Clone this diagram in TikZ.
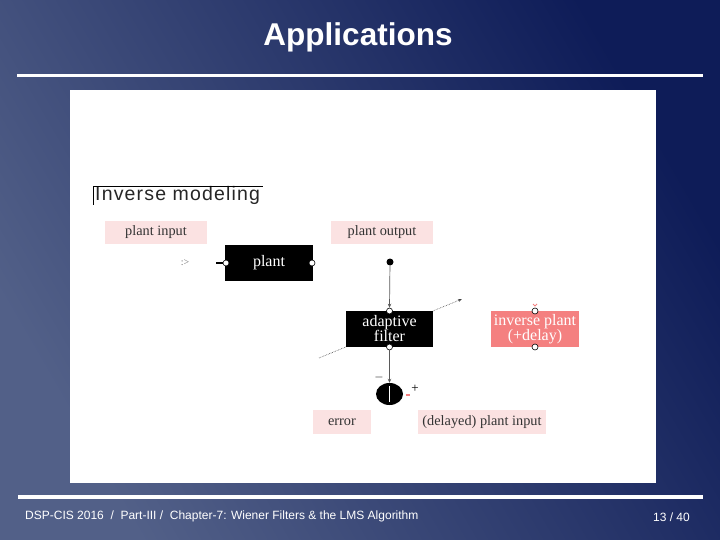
\documentclass[tikz,border=0pt]{standalone}
\usepackage{fontspec}
\setmainfont{Liberation Serif}
\newfontfamily\arialf{Liberation Sans}
\newfontfamily\spacedsans[LetterSpace=6]{Liberation Sans}
\usetikzlibrary{shapes.geometric,arrows.meta}
\definecolor{bgdark}{RGB}{14,28,88}
\definecolor{bglight}{RGB}{82,96,136}
\definecolor{pinkbox}{RGB}{251,226,226}
\definecolor{salmon}{RGB}{244,128,128}
\definecolor{wirecol}{RGB}{90,90,90}
\tikzset{
  labelbox/.style={fill=pinkbox, minimum width=#1, minimum height=23pt, inner sep=0pt, font=\fontsize{14.3}{15}\selectfont, text=black!80},
  blockbox/.style={fill=black, text=white, minimum width=88pt, minimum height=36pt, inner sep=0pt, align=center, font=\fontsize{16}{15}\selectfont},
  invbox/.style={fill=salmon, text=white, minimum width=88pt, minimum height=36pt, inner sep=0pt, align=center, font=\fontsize{16}{15}\selectfont},
  port/.style={circle, fill=white, draw=black, line width=0.6pt, minimum size=6pt, inner sep=0pt},
  wire/.style={draw=wirecol, line width=0.7pt},
  whiteline/.style={white, line width=3.5pt},
}
\begin{document}
\begin{tikzpicture}[x=1pt,y=-1pt]
\useasboundingbox (0,0) rectangle (720,540);
\shade[left color=bglight, right color=bgdark, shading angle=120] (0,0) rectangle (720,540);
\node[text=white, font=\arialf\bfseries\fontsize{31.5}{33}\selectfont] (title) at (358,37) {Applications};
\draw[whiteline] (17,75.5) -- (703,75.5);
\draw[whiteline] (18,497) -- (703,497);
\fill[white] (70,90) rectangle (656,483);
% heading
\node[anchor=west, inner sep=0pt, font=\spacedsans\fontsize{19.5}{20}\selectfont, text=black!85] (heading) at (95,195) {Inverse modeling};
\draw[black, line width=0.6pt] (93,205) -- (93,186.5) -- (263,186.5);
% label boxes
\node[labelbox=102pt] (pin) at (156,232.5) {plant input};
\node[labelbox=102pt] (pout) at (382,232.5) {plant output};
\node[labelbox=58pt, minimum height=24pt] (err) at (342,422) {error};
\node[labelbox=128pt, minimum height=24pt] (dpin) at (482,422) {(delayed) plant input};
% dotted diagonal (behind the filter)
\coordinate (dstart) at (319,358);
\coordinate (dend) at (462,299);
\draw[densely dotted, line width=0.6pt, black!75, -{Stealth[length=4pt,width=3pt]}] (dstart) -- (dend);
% blocks
\node[blockbox] (plant) at (269,263) {plant};
\node[blockbox, minimum width=87pt] (af) at (389.5,329) {adaptive\\filter};
\node[invbox] (inv) at (535,329) {inverse plant\\(+delay)};
% ports
\node[port] (pl) at (226,263) {};
\node[port] (pr) at (312,263) {};
\node[port] (aft) at (389.5,311) {};
\node[port] (afb) at (389.5,347) {};
\node[port] (invt) at (535,311) {};
\node[port] (invb) at (535,347) {};
\draw[salmon, line width=0.8pt] (533,304) -- (535,306) -- (537,304);
% input symbol
\node[text=black!55, font=\fontsize{10}{10}\selectfont] (insym) at (185,263) {:>};
\coordinate (dashA) at (216,263);
\draw[black, line width=1.2pt] (dashA) -- (pl.west);
% plant output dot and line
\node[circle, fill=black, minimum size=7pt, inner sep=0pt] (odot) at (390,262) {};
\draw[wire, -{Stealth[length=4pt,width=3.5pt]}] (odot) -- (aft.north);
% summing node
\node[ellipse, fill=black, minimum width=27pt, minimum height=22pt, inner sep=0pt] (sum) at (389.5,394) {};
\draw[white, line width=1pt] ([yshift=-8pt]sum.center) -- ([yshift=8pt]sum.center);
\draw[wire, -{Stealth[length=4pt,width=3.5pt]}] (afb.south) -- (sum.north);
\node[font=\fontsize{13}{13}\selectfont, inner sep=0pt] (minus) at (379,377) {$-$};
\node[font=\fontsize{13}{13}\selectfont, inner sep=0pt] (plus) at (415,389) {+};
\draw[salmon, line width=1.3pt] (405.5,395) -- (409.5,395);
% footer
\node[anchor=west, text=white, font=\arialf\fontsize{12}{13}\selectfont, inner sep=0pt] (foot) at (25,516) {DSP-CIS 2016\ \ /\ \ Part-III /\ \ Chapter-7: Wiener Filters \& the LMS Algorithm};
\node[anchor=east, text=white, font=\arialf\fontsize{12}{13}\selectfont, inner sep=0pt] (page) at (690,517) {13 / 40};
\end{tikzpicture}
\end{document}
